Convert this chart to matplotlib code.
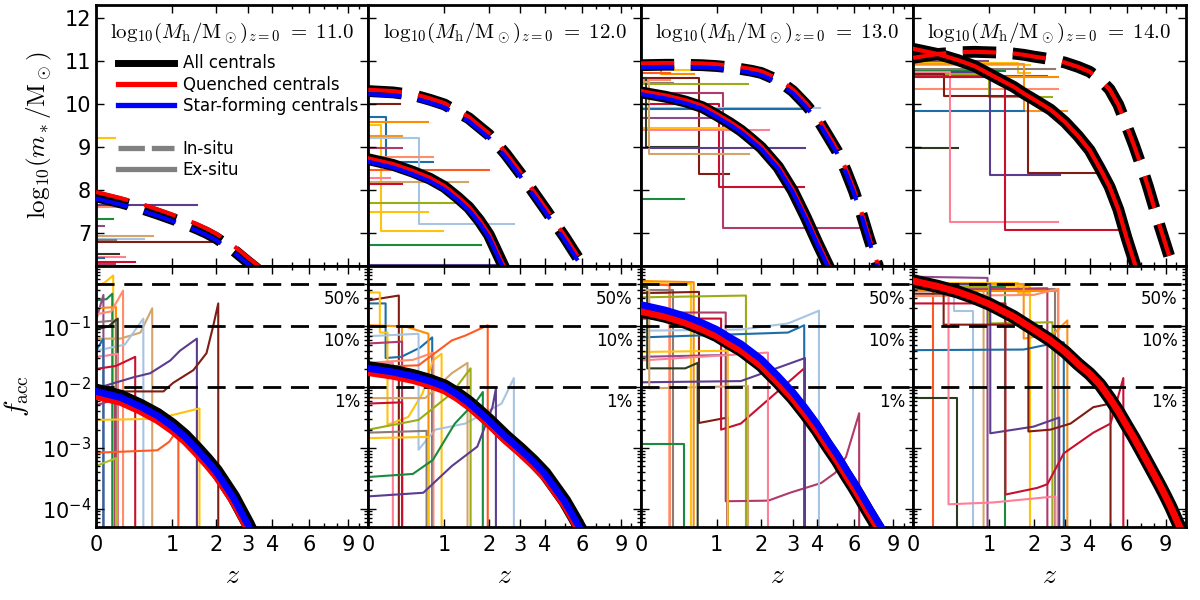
import numpy as np
import matplotlib.pyplot as plt
from matplotlib.lines import Line2D
from matplotlib.ticker import FixedLocator, FixedFormatter, NullFormatter, LogLocator

plt.rcParams['mathtext.fontset'] = 'cm'
plt.rcParams['font.family'] = 'DejaVu Sans'
plt.rcParams['lines.scale_dashes'] = False
plt.rcParams['axes.linewidth'] = 2
for a in ('xtick', 'ytick'):
    plt.rcParams[a + '.direction'] = 'in'
    plt.rcParams[a + '.major.size'] = 6
    plt.rcParams[a + '.minor.size'] = 3
    plt.rcParams[a + '.major.width'] = 1
    plt.rcParams[a + '.minor.width'] = 1
    plt.rcParams[a + '.labelsize'] = 15
plt.rcParams['xtick.top'] = True
plt.rcParams['ytick.right'] = True
plt.rcParams['xtick.major.pad'] = 6

# ---- data -----------------------------------------------------------------
halo_labels = ['11.0', '12.0', '13.0', '14.0']
z_grid = [0, 0.25, 0.5, 0.75, 1, 1.25, 1.5, 1.75, 2, 2.5, 3, 3.5, 4, 4.5, 5, 5.5,
          6, 6.5, 7, 7.5, 8, 8.5, 9, 9.5, 10, 10.5, 11]

# log10(m*/Msun), in-situ and ex-situ, centrals (all / quenched / star-forming)
insitu_all_11 = [7.86, 7.72, 7.59, 7.46, 7.34, 7.23, 7.12, 7.01, 6.89, 6.62, 6.34, 6.10]
insitu_q_11 = [7.96, 7.82, 7.69, 7.56, 7.44, 7.33, 7.22, 7.11, 6.99, 6.72, 6.44, 6.20]
insitu_sf_11 = [7.81, 7.67, 7.54, 7.41, 7.29, 7.18, 7.07, 6.96, 6.84, 6.57, 6.29, 6.05]

insitu_all_12 = [10.30, 10.27, 10.21, 10.10, 9.99, 9.82, 9.67, 9.47, 9.29, 8.84, 8.39, 7.96,
                 7.58, 7.23, 6.91, 6.59, 6.30, 6.00]
insitu_q_12 = [10.33, 10.30, 10.24, 10.13, 10.02, 9.85, 9.70, 9.50, 9.32, 8.87, 8.42, 7.99,
               7.61, 7.26, 6.94, 6.62, 6.33, 6.03]
insitu_sf_12 = [10.23, 10.20, 10.14, 10.03, 9.92, 9.75, 9.60, 9.40, 9.22, 8.77, 8.32, 7.89,
                7.51, 7.16, 6.84, 6.52, 6.23, 5.93]
exsitu_all_12 = [8.72, 8.59, 8.43, 8.27, 8.08, 7.84, 7.60, 7.30, 6.97, 6.13, 5.40]
exsitu_q_12 = [8.74, 8.61, 8.45, 8.29, 8.10, 7.86, 7.62, 7.32, 6.99, 6.15, 5.42]
exsitu_sf_12 = [8.66, 8.53, 8.37, 8.21, 8.02, 7.78, 7.54, 7.24, 6.91, 6.07, 5.34]

insitu_all_13 = [10.90, 10.91, 10.91, 10.90, 10.88, 10.85, 10.81, 10.77, 10.72, 10.55, 10.30,
                 9.99, 9.67, 9.27, 8.90, 8.45, 7.97, 7.44, 6.90, 6.42, 5.95]
insitu_q_13 = [10.94, 10.95, 10.95, 10.94, 10.92, 10.89, 10.85, 10.81, 10.76, 10.59, 10.34,
               10.03, 9.71, 9.31, 8.94, 8.49, 8.01, 7.48, 6.94, 6.46, 5.99]
insitu_sf_13 = [10.85, 10.86, 10.86, 10.85, 10.83, 10.80, 10.76, 10.72, 10.67, 10.50, 10.25,
                9.94, 9.62, 9.22, 8.85, 8.40, 7.92, 7.39, 6.85, 6.37, 5.90]
exsitu_all_13 = [10.27, 10.17, 10.06, 9.93, 9.74, 9.56, 9.38, 9.18, 8.99, 8.54, 7.99, 7.38,
                 6.79, 6.28, 5.80]
exsitu_q_13 = [10.30, 10.20, 10.09, 9.96, 9.77, 9.59, 9.41, 9.21, 9.02, 8.57, 8.02, 7.41,
               6.82, 6.31, 5.83]
exsitu_sf_13 = [10.23, 10.13, 10.02, 9.89, 9.70, 9.52, 9.34, 9.14, 8.95, 8.50, 7.95, 7.34,
                6.75, 6.24, 5.76]

insitu_all_14 = [11.07, 11.16, 11.20, 11.21, 11.20, 11.19, 11.17, 11.14, 11.10, 11.04, 10.96,
                 10.86, 10.75, 10.57, 10.34, 9.98, 9.50, 9.04, 8.57, 8.10, 7.61, 7.15, 6.74,
                 6.35, 5.98]
insitu_q_14 = [11.07, 11.16, 11.20, 11.21, 11.20, 11.19, 11.17, 11.14, 11.10, 11.04, 10.96,
               10.86, 10.75, 10.57, 10.34, 9.98, 9.50, 9.04, 8.57, 8.10, 7.61, 7.15, 6.74,
               6.35, 5.98]
exsitu_all_14 = [11.28, 11.16, 11.02, 10.88, 10.70, 10.54, 10.40, 10.24, 10.11, 9.87, 9.58,
                 9.26, 8.93, 8.50, 8.08, 7.55, 6.90, 6.35, 5.80]
exsitu_q_14 = [11.28, 11.16, 11.02, 10.88, 10.70, 10.54, 10.40, 10.24, 10.11, 9.87, 9.58,
               9.26, 8.93, 8.50, 8.08, 7.55, 6.90, 6.35, 5.80]

# log10(f_acc)
facc_all_11 = [-2.05, -2.15, -2.30, -2.45, -2.62, -2.80, -3.00, -3.19, -3.38, -3.80, -4.25, -4.70]
facc_q_11 = [-2.15, -2.25, -2.40, -2.55, -2.72, -2.90, -3.10, -3.29, -3.48, -3.90, -4.35, -4.80]
facc_sf_11 = [-2.07, -2.17, -2.32, -2.47, -2.64, -2.82, -3.02, -3.21, -3.40, -3.82, -4.27, -4.72]

facc_all_12 = [-1.68, -1.74, -1.81, -1.89, -1.98, -2.11, -2.25, -2.40, -2.54, -2.81, -3.02,
               -3.22, -3.42, -3.66, -3.88, -4.13, -4.37, -4.60]
facc_q_12 = [-1.76, -1.82, -1.89, -1.97, -2.06, -2.19, -2.33, -2.48, -2.62, -2.89, -3.10,
             -3.30, -3.50, -3.74, -3.96, -4.21, -4.45, -4.68]
facc_sf_12 = [-1.69, -1.75, -1.82, -1.90, -1.99, -2.12, -2.26, -2.41, -2.55, -2.82, -3.03,
              -3.23, -3.43, -3.67, -3.89, -4.14, -4.38, -4.61]

facc_all_13 = [-0.74, -0.83, -0.93, -1.04, -1.15, -1.28, -1.39, -1.52, -1.64, -1.92, -2.18,
               -2.45, -2.71, -2.98, -3.21, -3.45, -3.66, -3.87, -4.07, -4.25, -4.42]
facc_q_13 = [-0.75, -0.84, -0.94, -1.05, -1.16, -1.29, -1.40, -1.53, -1.65, -1.93, -2.19,
             -2.46, -2.72, -2.99, -3.22, -3.46, -3.67, -3.88, -4.08, -4.26, -4.43]
facc_sf_13 = [-0.64, -0.73, -0.83, -0.94, -1.05, -1.18, -1.29, -1.42, -1.54, -1.82, -2.08,
              -2.35, -2.61, -2.88, -3.11, -3.35, -3.56, -3.77, -3.97, -4.15, -4.32]

facc_all_14 = [-0.25, -0.34, -0.43, -0.53, -0.63, -0.74, -0.84, -0.95, -1.05, -1.23, -1.42,
               -1.62, -1.78, -1.96, -2.18, -2.40, -2.63, -2.84, -3.05, -3.25, -3.44, -3.62,
               -3.80, -3.98, -4.17, -4.35, -4.52]
facc_q_14 = [-0.25, -0.34, -0.43, -0.53, -0.63, -0.74, -0.84, -0.95, -1.05, -1.23, -1.42,
             -1.62, -1.78, -1.96, -2.18, -2.40, -2.63, -2.84, -3.05, -3.25, -3.44, -3.62,
             -3.80, -3.98, -4.17, -4.35, -4.52]

COL = {
    'gold': '#ffc20e', 'orange': '#ff8c00', 'orange2': '#f7941d',
    'vermillion': '#ff5a1f', 'crimson': '#c8102e', 'maroon': '#7f1d14',
    'raspberry': '#b03a68', 'pink': '#ff7f96', 'salmon': '#ff8c6b',
    'purple': '#5b3c8e', 'mauve': '#8e4a8a', 'lightblue': '#a7c4e2',
    'steelblue': '#1d6ea8', 'olive': '#9aad15', 'green': '#1a8a3e',
    'tan': '#d4a56a', 'graybrown': '#8a7b75', 'darkolive': '#2c3a22',
    'yellowgreen': '#a5c323',
}

# individual haloes: ex-situ mass (steps) -> (colour, z, log m*)
tracks_mass_11 = [
    ('gold', [0, 0.19], [9.22, 9.22]),
    ('salmon', [0, 0.3], [7.62, 7.62]),
    ('purple', [0, 1.52], [7.65, 7.65]),
    ('green', [0, 0.17], [7.33, 7.33]),
    ('mauve', [0, 0.08], [7.18, 7.18]),
    ('tan', [0, 0.68], [6.95, 6.95]),
    ('lightblue', [0, 0.55], [6.88, 6.88]),
    ('graybrown', [0, 0.2], [6.85, 6.85]),
    ('maroon', [0, 2.05], [6.8, 6.8]),
    ('darkolive', [0, 0.23], [6.52, 6.52]),
    ('pink', [0, 0.3], [6.46, 6.46]),
    ('steelblue', [0, 0.08], [6.42, 6.42]),
    ('crimson', [0, 0.43], [6.33, 6.33]),
    ('raspberry', [0, 0.19], [6.3, 6.3]),
]
tracks_mass_12 = [
    ('maroon', [0, 0.34], [10.0, 10.0]),
    ('steelblue', [0, 0.17, 0.8], [9.7, 8.65, 8.65]),
    ('orange', [0, 0.73], [9.58, 9.58]),
    ('gold', [0, 0.12, 0.97], [9.51, 7.05, 7.05]),
    ('orange2', [0, 0.36], [9.26, 9.26]),
    ('lightblue', [0, 0.58, 2.77], [9.21, 7.23, 7.23]),
    ('raspberry', [0, 0.36], [8.97, 8.97]),
    ('salmon', [0, 0.81], [8.77, 8.77]),
    ('vermillion', [0, 2.0], [8.47, 8.47]),
    ('pink', [0, 0.22], [8.28, 8.28]),
    ('tan', [0, 1.49], [8.19, 8.19]),
    ('crimson', [0, 0.36], [8.14, 8.14]),
    ('olive', [0, 1.54], [7.7, 7.7]),
    ('gold', [0, 0.73], [7.49, 7.49]),
    ('green', [0, 1.8], [6.74, 6.74]),
    ('purple', [0, 2.2], [6.28, 6.28]),
]
tracks_mass_13 = [
    ('orange', [0, 0.2, 0.62], [10.9, 10.7, 10.7]),
    ('gold', [0, 0.35, 0.58], [10.85, 10.78, 10.78]),
    ('vermillion', [0, 0.3], [10.72, 10.72]),
    ('maroon', [0, 0.7, 1.24], [10.6, 8.37, 8.37]),
    ('salmon', [0, 0.3], [10.55, 10.55]),
    ('graybrown', [0, 0.34], [10.49, 10.49]),
    ('olive', [0, 1.66], [10.47, 10.47]),
    ('raspberry', [0, 1.12, 6.3], [10.26, 7.12, 7.12]),
    ('crimson', [0, 1.05, 3.45], [10.0, 8.07, 8.07]),
    ('lightblue', [0, 4.15], [9.91, 9.91]),
    ('steelblue', [0, 3.5], [9.88, 9.88]),
    ('mauve', [0, 1.2], [9.67, 9.67]),
    ('gold', [0, 1.21], [9.44, 9.44]),
    ('pink', [0, 2.22], [9.39, 9.39]),
    ('darkolive', [0, 0.05, 0.68], [10.6, 9.0, 9.0]),
    ('purple', [0, 3.47], [8.98, 8.98]),
    ('tan', [0, 0.08, 1.69], [10.5, 8.84, 8.84]),
    ('green', [0, 0.48], [7.81, 7.81]),
]
tracks_mass_14 = [
    ('mauve', [0, 0.97], [11.0, 11.0]),
    ('gold', [0, 1.59, 1.9], [10.96, 10.73, 10.73]),
    ('gold', [0, 1.9], [10.9, 10.9]),
    ('graybrown', [0, 2.66], [10.81, 10.81]),
    ('green', [0, 1.32], [10.76, 10.76]),
    ('vermillion', [0, 0.2], [10.72, 10.72]),
    ('lightblue', [0, 0.68], [10.7, 10.7]),
    ('tan', [0, 0.9], [10.68, 10.68]),
    ('raspberry', [0, 2.4], [10.65, 10.65]),
    ('orange', [0, 2.76], [10.63, 10.63]),
    ('salmon', [0, 2.76], [10.35, 10.35]),
    ('olive', [0, 1.0, 2.56], [10.7, 10.16, 10.16]),
    ('orange2', [0, 1.74, 3.08], [10.93, 9.84, 9.84]),
    ('steelblue', [0, 1.74], [9.84, 9.84]),
    ('darkolive', [0, 0.51], [8.98, 8.98]),
    ('purple', [0, 1.02, 2.83], [10.75, 8.35, 8.35]),
    ('maroon', [0, 0.32, 1.86, 4.37], [10.7, 10.19, 8.4, 8.4]),
    ('pink', [0, 0.4, 2.73], [10.75, 7.26, 7.26]),
    ('crimson', [0, 1.32, 5.45], [10.62, 7.09, 7.09]),
]

# individual haloes: accreted fraction -> (colour, z, log10 f_acc)
tracks_facc_11 = [
    ('gold', [0, 0.08, 0.17], [-0.33, -0.28, -0.16]),
    ('green', [0, 0.1, 0.16], [-0.57, -0.55, -0.46]),
    ('mauve', [0, 0.07], [-0.9, -0.48]),
    ('orange', [0, 0.2], [-0.7, -0.68]),
    ('salmon', [0, 0.15, 0.28], [-0.8, -0.75, -0.41]),
    ('tan', [0, 0.25, 0.5, 0.67], [-1.2, -1.2, -1.1, -0.7]),
    ('lightblue', [0, 0.3, 0.54], [-1.4, -1.3, -0.87]),
    ('graybrown', [0, 0.2], [-0.93, -0.9]),
    ('darkolive', [0, 0.12, 0.22], [-1.05, -1.0, -0.87]),
    ('pink', [0, 0.1, 0.22], [-1.5, -1.48, -1.45]),
    ('steelblue', [0, 0.07], [-1.4, -1.2]),
    ('crimson', [0, 0.2, 0.43], [-1.7, -1.65, -1.5]),
    ('raspberry', [0, 0.19], [-2.3, -2.2]),
    ('purple', [0, 0.1, 0.4, 0.64, 0.97, 1.15, 1.51], [-2.02, -1.97, -1.84, -1.77, -1.56, -1.4, -1.2]),
    ('maroon', [0, 0.85, 1.02, 1.43, 1.74, 1.91, 2.05], [-2.07, -2.07, -1.93, -1.72, -1.44, -1.0, -0.62]),
    ('gold', [0, 0.75, 1.57], [-2.54, -2.52, -2.35]),
    ('vermillion', [0, 0.75, 0.95, 1.12], [-3.08, -3.04, -2.9, -2.68]),
    ('yellowgreen', [0, 0.2], [-3.3, -3.17]),
]
tracks_facc_12 = [
    ('maroon', [0, 0.32], [-0.57, -0.49]),
    ('steelblue', [0, 0.17, 0.17, 0.35, 0.6, 0.79], [-0.62, -0.62, -1.52, -1.5, -1.35, -1.18]),
    ('gold', [0, 0.11, 0.11, 0.19, 0.19, 0.32, 0.44, 0.64, 0.8, 0.95],
     [-0.44, -0.44, -1.1, -1.1, -2.62, -2.55, -2.49, -2.1, -1.56, -1.45]),
    ('orange', [0, 0.4, 0.73], [-0.98, -1.0, -1.12]),
    ('orange2', [0, 0.36], [-1.0, -1.0]),
    ('lightblue', [0, 0.58, 0.58, 0.84, 1.42, 2.37, 2.77], [-1.16, -1.12, -3.03, -2.7, -2.6, -2.27, -1.85]),
    ('raspberry', [0, 0.36], [-1.28, -1.25]),
    ('salmon', [0, 0.5, 0.81], [-1.6, -1.55, -1.43]),
    ('vermillion', [0, 0.58, 1.14, 1.42, 1.97], [-1.67, -1.64, -1.23, -1.15, -0.98]),
    ('pink', [0, 0.25], [-1.62, -1.6]),
    ('tan', [0, 0.68, 1.14, 1.47], [-2.18, -2.18, -1.77, -1.6]),
    ('crimson', [0, 0.36], [-2.27, -2.25]),
    ('olive', [0, 0.58, 1.14, 1.54], [-2.7, -2.54, -2.1, -1.69]),
    ('graybrown', [0, 0.7], [-2.75, -2.72]),
    ('gold', [0, 0.73], [-2.84, -2.82]),
    ('green', [0, 0.5, 0.8, 1.2, 1.7, 1.84], [-3.48, -3.43, -3.2, -2.6, -2.21, -2.08]),
    ('purple', [0, 0.65, 1.14, 1.7, 2.1, 2.2], [-3.8, -3.74, -3.3, -2.98, -2.33, -2.02]),
]
tracks_facc_13 = [
    ('orange', [0, 0.62], [-0.25, -0.27]),
    ('gold', [0, 0.58], [-0.28, -0.3]),
    ('vermillion', [0, 0.3], [-0.3, -0.32]),
    ('graybrown', [0, 0.34], [-0.4, -0.4]),
    ('salmon', [0, 0.3], [-0.45, -0.45]),
    ('maroon', [0, 0.7, 0.7, 1.21], [-0.45, -0.43, -2.59, -2.5]),
    ('olive', [0, 1.61], [-0.52, -0.49]),
    ('raspberry', [0, 1.17, 1.17, 2.2, 2.9, 4.18, 4.9, 5.5, 6.33],
     [-0.77, -0.77, -3.88, -3.87, -3.74, -3.58, -3.41, -3.15, -2.43]),
    ('crimson', [0, 1.08, 1.08, 1.49, 2.19, 3.44], [-0.87, -0.87, -2.7, -2.6, -2.21, -1.69]),
    ('lightblue', [0, 1.49, 2.83, 4.08], [-1.07, -1.05, -0.95, -0.74]),
    ('steelblue', [0, 2.83, 3.44], [-1.18, -1.1, -0.98]),
    ('mauve', [0, 1.2], [-1.5, -1.47]),
    ('gold', [0, 1.21], [-1.42, -1.4]),
    ('pink', [0, 2.19], [-1.56, -1.43]),
    ('darkolive', [0, 0.06, 0.06, 0.5, 0.68], [-0.35, -0.35, -1.69, -1.69, -1.6]),
    ('purple', [0, 1.49, 3.47], [-1.92, -1.9, -1.52]),
    ('tan', [0, 0.08, 0.08, 1.66], [-0.4, -0.4, -2.02, -1.98]),
    ('green', [0, 0.48], [-2.93, -2.93]),
]
tracks_facc_14 = [
    ('mauve', [0, 0.97], [-0.18, -0.2]),
    ('gold', [0, 1.59, 1.59, 1.9], [-0.28, -0.28, -0.45, -0.45]),
    ('gold', [0, 1.9], [-0.33, -0.33]),
    ('tan', [0, 0.9], [-0.3, -0.32]),
    ('green', [0, 1.32], [-0.35, -0.35]),
    ('vermillion', [0, 0.2], [-0.35, -0.35]),
    ('graybrown', [0, 2.66], [-0.38, -0.38]),
    ('raspberry', [0, 2.4], [-0.4, -0.37]),
    ('orange', [0, 2.76], [-0.42, -0.42]),
    ('salmon', [0, 2.0, 2.76], [-0.5, -0.48, -0.38]),
    ('lightblue', [0, 0.45, 0.45, 0.72], [-0.3, -0.3, -0.75, -0.75]),
    ('olive', [0, 1.0, 1.0, 2.56], [-0.35, -0.35, -0.95, -0.93]),
    ('orange2', [0, 1.74, 1.74, 2.6, 3.08], [-0.3, -0.3, -1.2, -1.12, -0.9]),
    ('steelblue', [0, 1.74, 2.3, 2.95], [-1.39, -1.38, -1.31, -1.26]),
    ('darkolive', [0, 0.49], [-2.18, -2.18]),
    ('purple', [0, 1.02, 1.02, 2.0, 2.79], [-0.3, -0.3, -2.76, -2.65, -2.5]),
    ('maroon', [0, 0.32, 0.32, 1.86, 1.86, 2.5, 3.2, 4.17, 5.05],
     [-0.46, -0.46, -0.97, -0.97, -2.73, -2.7, -2.6, -2.33, -2.27]),
    ('pink', [0, 0.38, 0.38, 1.07, 2.66], [-0.3, -0.32, -3.93, -3.9, -3.8]),
    ('crimson', [0, 1.32, 1.32, 2.1, 2.4, 2.95, 4.17, 5.05, 5.8],
     [-0.62, -0.62, -3.77, -3.66, -3.6, -3.09, -2.75, -2.6, -1.85]),
]

frac_lines = [0.5, 0.1, 0.01]
frac_labels = ['50%', '10%', '1%']

panels = [
    dict(ins=(insitu_all_11, insitu_q_11, insitu_sf_11), exs=None,
         facc=(facc_all_11, facc_q_11, facc_sf_11), tm=tracks_mass_11, tf=tracks_facc_11),
    dict(ins=(insitu_all_12, insitu_q_12, insitu_sf_12), exs=(exsitu_all_12, exsitu_q_12, exsitu_sf_12),
         facc=(facc_all_12, facc_q_12, facc_sf_12), tm=tracks_mass_12, tf=tracks_facc_12),
    dict(ins=(insitu_all_13, insitu_q_13, insitu_sf_13), exs=(exsitu_all_13, exsitu_q_13, exsitu_sf_13),
         facc=(facc_all_13, facc_q_13, facc_sf_13), tm=tracks_mass_13, tf=tracks_facc_13),
    dict(ins=(insitu_all_14, insitu_q_14, None), exs=(exsitu_all_14, exsitu_q_14, None),
         facc=(facc_all_14, facc_q_14, None), tm=tracks_mass_14, tf=tracks_facc_14),
]


def fwd(z):
    return np.log10(1 + np.clip(np.asarray(z, dtype=float), -0.999, None))


def inv(u):
    return 10 ** np.asarray(u, dtype=float) - 1


def zs(vals):
    return z_grid[:len(vals)]


DASH = (24, 12)

fig, axes = plt.subplots(2, 4, figsize=(12, 6), dpi=100)
fig.subplots_adjust(left=0.08, right=0.988, top=0.992, bottom=0.122, wspace=0, hspace=0)

for i, p in enumerate(panels):
    ax, bx = axes[0, i], axes[1, i]

    # top row: stellar mass
    for c, z, m in p['tm']:
        ax.plot(z, m, color=COL[c], lw=1.5, drawstyle='steps-post', zorder=1)
    for curves, style in ((p['exs'], {}), (p['ins'], {'dashes': DASH})):
        if curves is None:
            continue
        a, q, sf = curves
        ax.plot(zs(a), a, color='k', lw=8.5, zorder=3, **style)
        ax.plot(zs(q), q, color='r', lw=3, zorder=4, **style)
        if sf is not None:
            ax.plot(zs(sf), sf, color='b', lw=3, zorder=4, **style)
    ax.text(0.5, 0.872, r'$\mathrm{log}_{10}(M_{\rm h}/{\rm M}_\odot)_{z=0}\ =\ %s$' % halo_labels[i],
            transform=ax.transAxes, ha='center', va='baseline', fontsize=15)

    # bottom row: accreted fraction
    for c, z, lf in p['tf']:
        zz = list(z) + [z[-1]]
        ff = list(10 ** np.array(lf)) + [1e-7]
        bx.plot(zz, ff, color=COL[c], lw=1.5, zorder=1)
    a, q, sf = p['facc']
    bx.plot(zs(a), 10 ** np.array(a), color='k', lw=9.5, zorder=3)
    bx.plot(zs(q), 10 ** np.array(q), color='r', lw=5, zorder=4)
    if sf is not None:
        bx.plot(zs(sf), 10 ** np.array(sf), color='b', lw=5, zorder=5)
    for v, lab in zip(frac_lines, frac_labels):
        bx.axhline(v, color='k', lw=2, dashes=(13, 7), zorder=2)
        bx.annotate(lab, xy=(0.97, v), xycoords=('axes fraction', 'data'),
                    xytext=(0, -4), textcoords='offset points',
                    ha='right', va='top', fontsize=12)

    for axx in (ax, bx):
        axx.set_xscale('function', functions=(fwd, inv))
        axx.set_xlim(0, 11)
        axx.xaxis.set_major_locator(FixedLocator([0, 1, 2, 3, 4, 6, 9]))
        axx.xaxis.set_major_formatter(FixedFormatter(['0', '1', '2', '3', '4', '6', '9']))
        axx.xaxis.set_minor_locator(FixedLocator([5, 7, 8, 10]))
        axx.xaxis.set_minor_formatter(NullFormatter())

    ax.set_ylim(6.25, 12.3)
    ax.set_yticks([7, 8, 9, 10, 11, 12])
    ax.tick_params(labelbottom=False)

    bx.set_yscale('log')
    bx.set_ylim(5e-5, 1)
    bx.yaxis.set_major_locator(FixedLocator([1e-4, 1e-3, 1e-2, 1e-1]))
    bx.yaxis.set_major_formatter(FixedFormatter([r'$\mathregular{10^{-4}}$', r'$\mathregular{10^{-3}}$',
                                                 r'$\mathregular{10^{-2}}$', r'$\mathregular{10^{-1}}$']))
    bx.yaxis.set_minor_locator(LogLocator(base=10, subs=np.arange(2, 10), numticks=20))
    bx.yaxis.set_minor_formatter(NullFormatter())
    bx.set_xlabel(r'$z$', fontsize=20)

    if i > 0:
        ax.tick_params(labelleft=False)
        bx.tick_params(labelleft=False)

axes[0, 0].set_ylabel(r'$\mathrm{log}_{10}(m_*/{\rm M}_\odot)$', fontsize=18, labelpad=8)
axes[1, 0].set_ylabel(r'$f_{\rm acc}$', fontsize=20, labelpad=8)

handles = [Line2D([], [], color='k', lw=5),
           Line2D([], [], color='r', lw=3.8),
           Line2D([], [], color='b', lw=3.8),
           Line2D([], [], color='none'),
           Line2D([], [], color='0.5', lw=3.8, dashes=(19, 5)),
           Line2D([], [], color='0.5', lw=3.8)]
labels = ['All centrals', 'Quenched centrals', 'Star-forming centrals', ' ', 'In-situ', 'Ex-situ']
axes[0, 0].legend(handles, labels, loc='upper left', bbox_to_anchor=(0.08, 0.81), frameon=False,
                  fontsize=12, handlelength=3.4, handletextpad=0.5, labelspacing=0.2,
                  borderaxespad=0, borderpad=0)

fig.savefig('out.png', dpi=100)
